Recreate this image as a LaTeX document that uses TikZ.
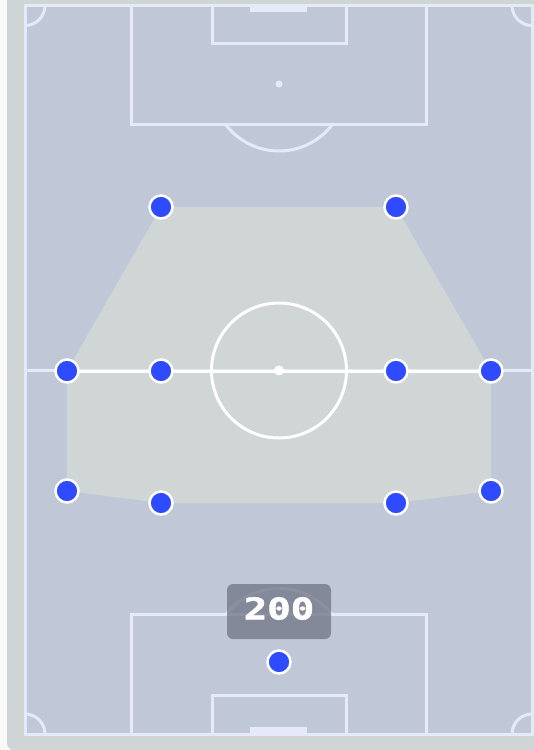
\documentclass[tikz,border=0pt]{standalone}
\usepackage{fontspec}
\usepackage{graphicx}
\newfontfamily\labelfont[BoldFeatures={FakeBold=1.6}]{DejaVu Sans Mono}
\definecolor{bgwhite}{HTML}{F8F8F8}
\definecolor{panel}{HTML}{CFD4D4}
\definecolor{pitch}{HTML}{C0C8D8}
\definecolor{pline}{HTML}{E6EAF8}
\definecolor{hull}{HTML}{D0D5D5}
\definecolor{player}{HTML}{2F4BFF}
\definecolor{tag}{HTML}{747A88}
\begin{document}
\begin{tikzpicture}[x=1pt,y=-1pt,
  pitchline/.style={draw=pline,line width=3pt},
  whiteline/.style={draw=white,line width=3pt},
  playerdot/.style={circle,fill=player,draw=white,line width=2.5pt,minimum size=23pt,inner sep=0pt},
  tagbox/.style={rectangle,rounded corners=6pt,fill=tag,fill opacity=0.8,minimum width=104pt,minimum height=55pt,inner sep=0pt},
  tagtext/.style={text=white,inner sep=0pt,font=\labelfont\bfseries\fontsize{30}{30}\selectfont}]
\useasboundingbox (0,0) rectangle (534,750);
\fill[bgwhite] (0,0) rectangle (534,750);
\fill[panel,rounded corners=7pt] (7,-20) rectangle (560,750);
\fill[pitch] (25,5.5) rectangle (532,734);
% player positions
\coordinate (p1) at (161,207);
\coordinate (p2) at (396,207);
\coordinate (p3) at (67,371);
\coordinate (p4) at (161,371);
\coordinate (p5) at (396,371);
\coordinate (p6) at (491,371);
\coordinate (p7) at (67,491);
\coordinate (p8) at (161,503);
\coordinate (p9) at (396,503);
\coordinate (p10) at (491,491);
\coordinate (gk) at (279,662);
% hull
\fill[hull] (p1) -- (p2) -- (p6) -- (p10) -- (p9) -- (p8) -- (p7) -- (p3) -- cycle;
% outer lines
\draw[pitchline] (25,5.5) rectangle (532,734);
% top half
\draw[pitchline] (131.5,5.5) |- (426.5,124) -- (426.5,5.5);
\draw[pitchline] (212,5.5) |- (346,43) -- (346,5.5);
\fill[pline] (250,5.5) rectangle (307,12);
\fill[pline] (279,84) circle (3.5);
\draw[pitchline] (279,84) ++(36.6:67) arc[start angle=36.6,end angle=143.4,radius=67];
% bottom half
\draw[pitchline] (131.5,734) |- (426.5,614.5) -- (426.5,734);
\draw[pitchline] (212,734) |- (346,695) -- (346,734);
\fill[pline] (250,727) rectangle (307,734);
\fill[pline] (279,655.5) circle (3.5);
\draw[pitchline] (279,655.5) ++(-37.7:67) arc[start angle=-37.7,end angle=-142.3,radius=67];
% corners
\draw[pitchline] (45,5.5) arc[start angle=0,end angle=90,radius=20];
\draw[pitchline] (512,5.5) arc[start angle=180,end angle=90,radius=20];
\draw[pitchline] (45,734) arc[start angle=0,end angle=-90,radius=20];
\draw[pitchline] (512,734) arc[start angle=180,end angle=270,radius=20];
% halfway
\draw[pitchline] (25,370.5) -- (532,370.5);
\draw[whiteline] (p3) -- (p6);
\draw[whiteline] (279,370.5) circle (67.5);
\fill[white] (279,370.5) circle (5);
% players
\node[playerdot] (d1) at (p1) {};
\node[playerdot] (d2) at (p2) {};
\node[playerdot] (d3) at (p3) {};
\node[playerdot] (d4) at (p4) {};
\node[playerdot] (d5) at (p5) {};
\node[playerdot] (d6) at (p6) {};
\node[playerdot] (d7) at (p7) {};
\node[playerdot] (d8) at (p8) {};
\node[playerdot] (d9) at (p9) {};
\node[playerdot] (d10) at (p10) {};
\node[playerdot] (d11) at (gk) {};
% label
\node[tagbox] (score) at (279,611.5) {};
\node[tagtext] (scoretext) at (279,608.5) {\scalebox{1.3}[1]{200}};
\end{tikzpicture}
\end{document}
